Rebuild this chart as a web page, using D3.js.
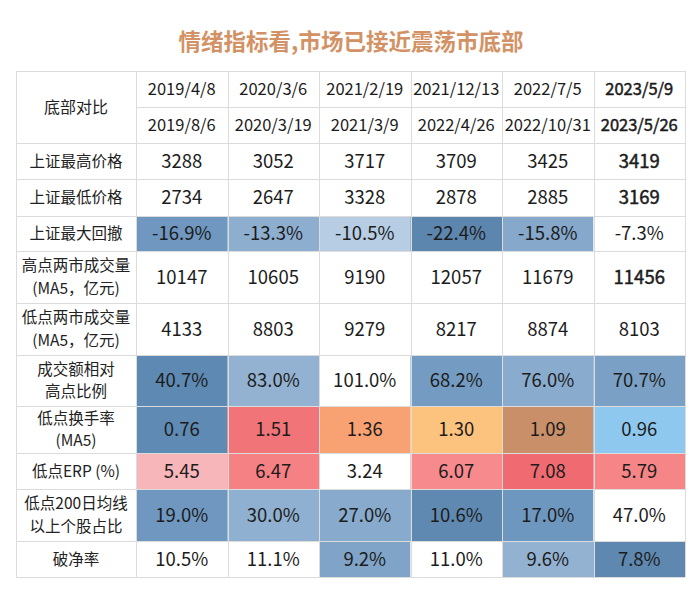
<!DOCTYPE html>
<html><head><meta charset="utf-8">
<script src="https://cdn.jsdelivr.net/npm/d3@7"></script>
<style>
html,body{margin:0;padding:0;background:#fff;}
svg{display:block;font-family:"Noto Sans CJK SC","Noto Sans",sans-serif;}
</style></head>
<body><svg id="chart" width="700" height="615"></svg>
<script>
// ---- data ----
const title = "情绪指标看,市场已接近震荡市底部";
const cornerLabel = "底部对比";
const startDates = ["2019/4/8","2020/3/6","2021/2/19","2021/12/13","2022/7/5","2023/5/9"];
const endDates   = ["2019/8/6","2020/3/19","2021/3/9","2022/4/26","2022/10/31","2023/5/26"];
const metricLabels = [
  ["上证最高价格"],
  ["上证最低价格"],
  ["上证最大回撤"],
  ["高点两市成交量","(MA5，亿元)"],
  ["低点两市成交量","(MA5，亿元)"],
  ["成交额相对","高点比例"],
  ["低点换手率","(MA5)"],
  ["低点ERP (%)"],
  ["低点200日均线","以上个股占比"],
  ["破净率"]
];
const highPrice  = [3288,3052,3717,3709,3425,3419];
const lowPrice   = [2734,2647,3328,2878,2885,3169];
const drawdown   = [-16.9,-13.3,-10.5,-22.4,-15.8,-7.3];
const highVolume = [10147,10605,9190,12057,11679,11456];
const lowVolume  = [4133,8803,9279,8217,8874,8103];
const volumeRatio= [40.7,83.0,101.0,68.2,76.0,70.7];
const turnover   = [0.76,1.51,1.36,1.30,1.09,0.96];
const erp        = [5.45,6.47,3.24,6.07,7.08,5.79];
const above200   = [19.0,30.0,27.0,10.6,17.0,47.0];
const pbBreak    = [10.5,11.1,9.2,11.0,9.6,7.8];

// ---- styles (kept apart from data) ----
const W = "#ffffff";
const fills = [
  [W,W,W,W,W,W],
  [W,W,W,W,W,W],
  ["#6f97c0","#8eaed0","#b6cde4","#5c86ae","#85a8cb",W],
  [W,W,W,W,W,W],
  [W,W,W,W,W,W],
  ["#5e89b2","#93b2d2",W,"#749cc3","#89abcd","#7aa1c5"],
  ["#5f8ab4","#f07478","#f8a273","#fcc37e","#c98f69","#8fc8ee"],
  ["#f7b6ba","#f58184",W,"#f68a8c","#f06b71","#f58587"],
  ["#6f97c0","#8fb0d0","#88aacc","#5f89b1","#6e97bf",W],
  [W,W,"#7fa4c8",W,"#93b2d1","#5f88b0"]
];
const boldCells = {"0-5":1,"1-5":1,"3-5":1};

const fmt1 = d3.format(".1f"), fmt2 = d3.format(".2f"), fmtInt = d3.format("d");
const fixMinus = s => s.replace("\u2212", "-");
const pct = v => fixMinus(fmt1(v)) + "%";
const rows = [
  {vals: highPrice,  fmt: fmtInt},
  {vals: lowPrice,   fmt: fmtInt},
  {vals: drawdown,   fmt: pct},
  {vals: highVolume, fmt: fmtInt},
  {vals: lowVolume,  fmt: fmtInt},
  {vals: volumeRatio,fmt: pct},
  {vals: turnover,   fmt: fmt2},
  {vals: erp,        fmt: fmt2},
  {vals: above200,   fmt: pct},
  {vals: pbBreak,    fmt: pct}
];
const rowHeights = [36,37,35,52,52,51,47,36,52,36];

const svg = d3.select("#chart");
const tLeft = 16, labelRight = 136, tRight = 685, tTop = 71, headH = 36;
const x = d3.scaleBand().domain(d3.range(startDates.length)).range([labelRight, tRight]);
const rowTops = [];
let acc = tTop + headH*2;
rowHeights.forEach(h => { rowTops.push(acc); acc += h; });
const tBottom = acc;

// title
svg.append("text").attr("x", 351).attr("y", 50).attr("text-anchor","middle")
  .attr("font-size", 22.5).attr("font-weight", 700).attr("fill", "#d39265")
  .text(title);

const grid = "#dcdcdc";
const medium = sel => sel.attr("stroke", "#111").attr("stroke-width", 0.45).attr("paint-order","stroke");
// header
const g = svg.append("g");
g.append("text").attr("x",(tLeft+labelRight)/2).attr("y", tTop+headH).attr("dy","0.35em")
  .attr("text-anchor","middle").attr("font-size",16).attr("fill","#222").text(cornerLabel);
[startDates, endDates].forEach((arr, r) => {
  g.selectAll(null).data(arr).enter().append("text")
    .attr("x",(d,i)=>x(i)+x.bandwidth()/2)
    .attr("y", tTop + headH*r + headH/2).attr("dy","0.36em")
    .attr("text-anchor","middle").attr("font-size",16.5).attr("fill","#1a1a1a")
    .text(d=>d)
    .filter((d,i)=> i===5).call(medium);
});

// body cells
rows.forEach((row, r) => {
  const y0 = rowTops[r], h = rowHeights[r];
  const rg = svg.append("g");
  rg.selectAll("rect").data(row.vals).enter().append("rect")
    .attr("x",(d,i)=>x(i)).attr("y",y0).attr("width",x.bandwidth()).attr("height",h)
    .attr("fill",(d,i)=>fills[r][i]);
  rg.selectAll("text.v").data(row.vals).enter().append("text").attr("class","v")
    .attr("x",(d,i)=>x(i)+x.bandwidth()/2).attr("y",y0+h/2).attr("dy","0.36em")
    .attr("text-anchor","middle").attr("font-size",18.5).attr("fill","#1c1c1c")
    .text(d=>row.fmt(d))
    .filter((d,i)=> boldCells[r+"-"+i]).call(medium);
  const lines = metricLabels[r];
  const lh = 22.5;
  rg.selectAll("text.l").data(lines).enter().append("text").attr("class","l")
    .attr("x",(tLeft+labelRight)/2)
    .attr("y",(d,k)=> y0 + h/2 + (k - (lines.length-1)/2)*lh).attr("dy","0.36em")
    .attr("text-anchor","middle").attr("font-size",15.5).attr("fill","#222")
    .text(d=>d);
});

// grid lines
const lg = svg.append("g").attr("stroke",grid).attr("stroke-width",1).attr("shape-rendering","crispEdges");
const hLines = [tTop, tTop+headH, tTop+headH*2, ...rowTops.slice(1), tBottom];
hLines.forEach((y,k) => {
  lg.append("line").attr("x1", k===1 ? labelRight : tLeft).attr("x2", tRight)
    .attr("y1", y+0.5).attr("y2", y+0.5);
});
const vLines = [tLeft, labelRight, ...d3.range(1, startDates.length).map(i=>x(i)), tRight];
vLines.forEach(v => {
  lg.append("line").attr("x1", v+0.5).attr("x2", v+0.5).attr("y1", tTop).attr("y2", tBottom);
});
</script></body></html>
